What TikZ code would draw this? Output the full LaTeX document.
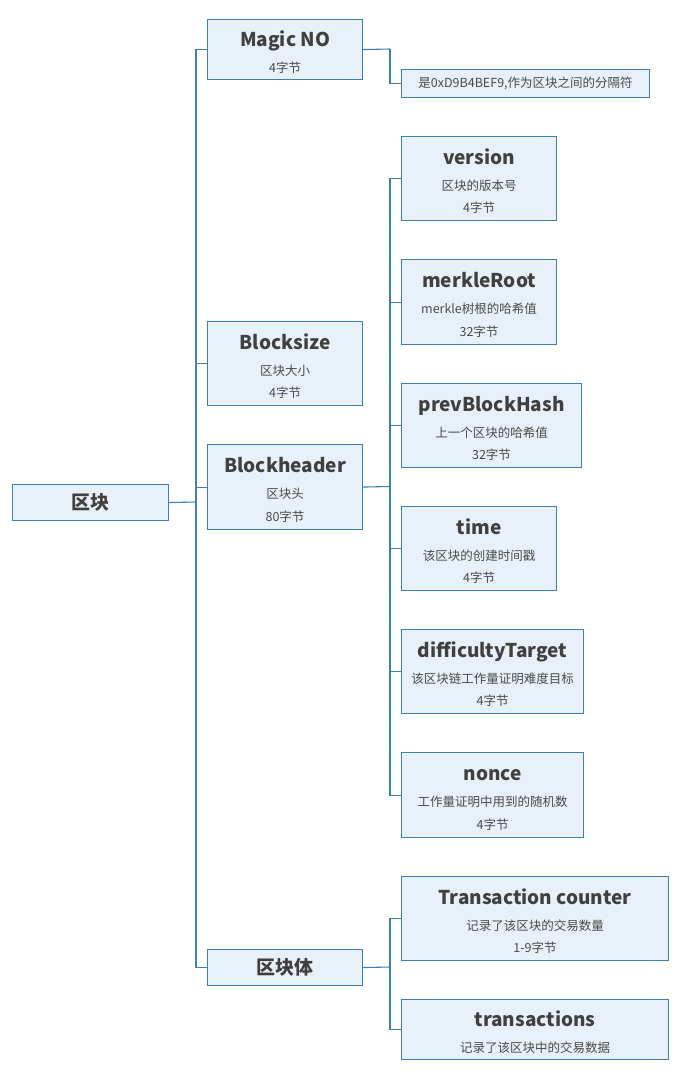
\documentclass[tikz,border=0pt]{standalone}
\usepackage{fontspec}
\setmainfont{Noto Sans CJK SC}
\newfontfamily\cjk{Noto Sans CJK SC}
\definecolor{linec}{HTML}{3C80B6}
\definecolor{boxfill}{HTML}{E8F1FA}
\definecolor{txt}{HTML}{404040}
\definecolor{subtxt}{HTML}{4A4A4A}
\tikzset{
  mbox/.style={draw=linec, fill=boxfill, line width=1.1pt, anchor=north west, inner sep=0pt,
    align=center, text=subtxt, font=\fontsize{12.5}{22.5}\selectfont},
  conn/.style={draw=linec, line width=1.1pt},
}
\newcommand{\ttl}[1]{{\color{txt}\fontsize{19}{22.5}\selectfont\bfseries\rule{0pt}{20.5pt}#1}}
\newcommand{\ttlone}[1]{{\color{txt}\fontsize{19}{22.5}\selectfont\bfseries #1}}
\begin{document}
\begin{tikzpicture}[x=1pt,y=-1pt]
\path[use as bounding box, fill=white] (0,0) rectangle (680,1077);
% level 0
\node[mbox, minimum width=156pt, minimum height=36pt] (root) at (12,484) {\ttlone{区块}};
% level 1
\node[mbox, minimum width=155pt, minimum height=60pt] (magic) at (207,19) {\ttl{Magic NO}\\[3.5pt]4字节};
\node[mbox, minimum width=155pt, minimum height=84pt] (bsize) at (207,321) {\ttl{Blocksize}\\[3.5pt]区块大小\\4字节};
\node[mbox, minimum width=155pt, minimum height=85pt] (bhead) at (207,444) {\ttl{Blockheader}\\[3.5pt]区块头\\80字节};
\node[mbox, minimum width=155pt, minimum height=36pt] (body) at (207,949) {\ttlone{区块体}};
% level 2
\node[mbox, minimum width=248pt, minimum height=28pt] (sep) at (401,69) {是0xD9B4BEF9,作为区块之间的分隔符};
\node[mbox, minimum width=155pt, minimum height=84pt] (ver) at (401,136) {\ttl{version}\\[3.5pt]区块的版本号\\4字节};
\node[mbox, minimum width=155pt, minimum height=85pt] (merkle) at (401,259) {\ttl{merkleRoot}\\[3.5pt]merkle树根的哈希值\\32字节};
\node[mbox, minimum width=180pt, minimum height=84pt] (prev) at (401,383) {\ttl{prevBlockHash}\\[3.5pt]上一个区块的哈希值\\32字节};
\node[mbox, minimum width=155pt, minimum height=84pt] (time) at (401,506) {\ttl{time}\\[3.5pt]该区块的创建时间戳\\4字节};
\node[mbox, minimum width=182pt, minimum height=84pt] (diff) at (401,629) {\ttl{difficultyTarget}\\[3.5pt]该区块链工作量证明难度目标\\4字节};
\node[mbox, minimum width=182pt, minimum height=85pt] (nonce) at (401,752) {\ttl{nonce}\\[3.5pt]工作量证明中用到的随机数\\4字节};
\node[mbox, minimum width=267pt, minimum height=84pt] (tc) at (401,876) {\ttl{Transaction counter}\\[3.5pt]记录了该区块的交易数量\\1-9字节};
\node[mbox, minimum width=267pt, minimum height=60pt] (tx) at (401,999) {\ttl{transactions}\\[3.5pt]记录了该区块中的交易数据};
% junctions
\coordinate (j0) at (196,502);
\coordinate (j1) at (390,49);
\coordinate (j2) at (390,486.5);
\coordinate (j3) at (390,967);
% connectors
\draw[conn] (root.east) -- (j0);
\draw[conn] (j0) |- (magic.west);
\draw[conn] (j0) |- (bsize.west);
\draw[conn] (j0) |- (bhead.west);
\draw[conn] (j0) |- (body.west);
\draw[conn] (magic.east) -- (j1);
\draw[conn] (j1) |- (sep.west);
\draw[conn] (bhead.east) -- (j2);
\draw[conn] (j2) |- (ver.west);
\draw[conn] (j2) |- (merkle.west);
\draw[conn] (j2) |- (prev.west);
\draw[conn] (j2) |- (time.west);
\draw[conn] (j2) |- (diff.west);
\draw[conn] (j2) |- (nonce.west);
\draw[conn] (body.east) -- (j3);
\draw[conn] (j3) |- (tc.west);
\draw[conn] (j3) |- (tx.west);
\end{tikzpicture}
\end{document}
